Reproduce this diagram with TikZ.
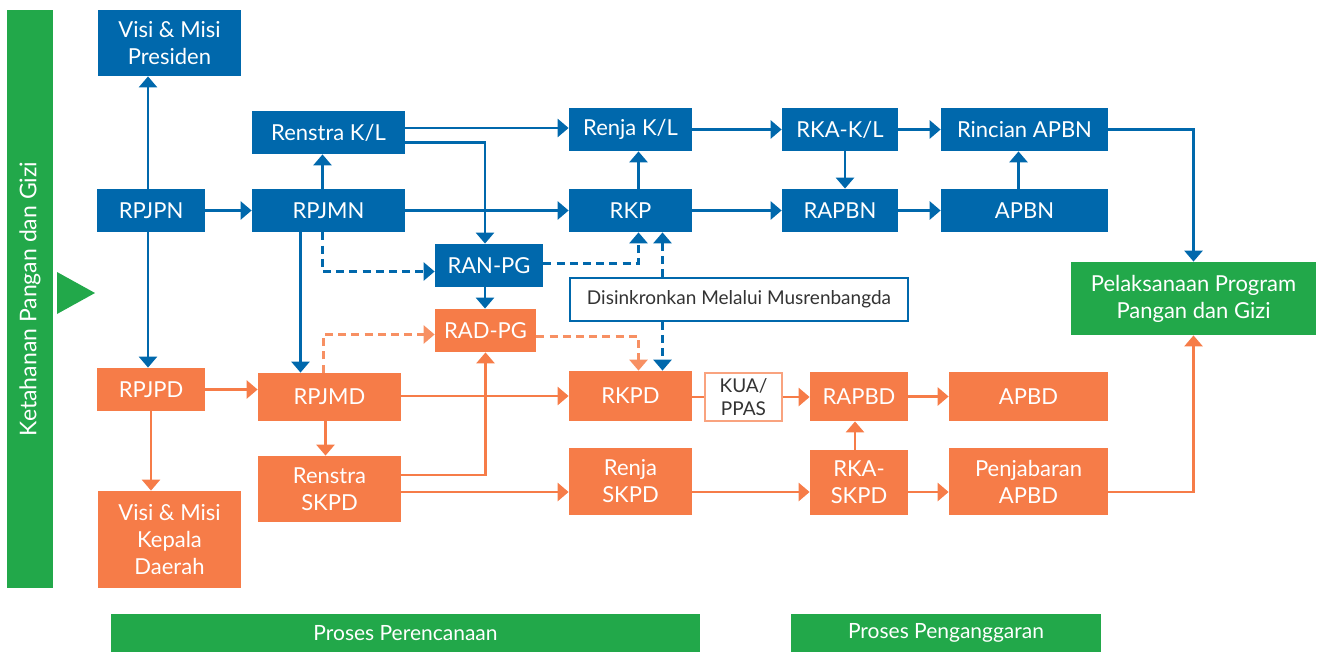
\documentclass[tikz,border=0pt]{standalone}
\usepackage{fontspec}
\setmainfont{Lato}
\usetikzlibrary{arrows.meta}
\definecolor{pgblue}{HTML}{0068AC}
\definecolor{pgorange}{HTML}{F67C48}
\definecolor{pggreen}{HTML}{22A84A}
\definecolor{pgtext}{HTML}{333333}
\begin{document}
\begin{tikzpicture}[x=0.5pt, y=-0.5pt,
  box/.style={minimum height=21.5pt, inner sep=1pt, align=center, text=white,
              font=\fontsize{11}{13.5}\selectfont},
  nas/.style={box, fill=pgblue},
  dae/.style={box, fill=pgorange},
  hijau/.style={box, fill=pggreen},
  ket/.style={box, fill=white, text=pgtext, font=\fontsize{9.5}{11.5}\selectfont},
  ar/.style={-{Triangle[width=9pt,length=5.5pt]}, line width=1.4pt},
  arb/.style={ar, pgblue},
  aro/.style={ar, pgorange},
  putus/.style={dash pattern=on 4pt off 2.6pt},
]
  \useasboundingbox (0,0) rectangle (1320,652);
  % side bar
  \node[hijau, rotate=90, minimum width=289pt, minimum height=23pt,
        font=\fontsize{11.5}{13}\selectfont] (side) at (30,299) {Ketahanan Pangan dan Gizi};
  \fill[pggreen] (57,272) -- (95,293) -- (57,314) -- cycle;
  % national level
  \node[nas, minimum width=71.5pt, minimum height=33pt] (vmp) at (169.5,43) {Visi \& Misi\\ Presiden};
  \node[nas, minimum width=54pt] (rpjpn) at (151,210.5) {RPJPN};
  \node[nas, minimum width=76.5pt] (renkl) at (328.5,132.5) {Renstra K/L};
  \node[nas, minimum width=76.5pt] (rpjmn) at (328.5,210.5) {RPJMN};
  \node[nas, minimum width=54pt] (ranpg) at (489,265.5) {RAN-PG};
  \node[nas, minimum width=61.5pt] (renjakl) at (630.5,129.5) {Renja K/L};
  \node[nas, minimum width=61.5pt] (rkp) at (630.5,210.5) {RKP};
  \node[nas, minimum width=58pt] (rkakl) at (840,129.5) {RKA-K/L};
  \node[nas, minimum width=58pt] (rapbn) at (840,210.5) {RAPBN};
  \node[nas, minimum width=83.5pt] (rincian) at (1024.5,129.5) {Rincian APBN};
  \node[nas, minimum width=83.5pt] (apbn) at (1024.5,210.5) {APBN};
  \node[ket, draw=pgblue, line width=0.7pt, minimum width=169pt] (sync) at (739,299.5)
      {Disinkronkan Melalui Musrenbangda};
  \node[hijau, minimum width=122.5pt, minimum height=36.5pt] (pelak) at (1193.5,298.5)
      {Pelaksanaan Program\\ Pangan dan Gizi};
  % regional level
  \node[dae, minimum width=50.5pt] (radpg) at (485.5,330.5) {RAD-PG};
  \node[dae, minimum width=54pt] (rpjpd) at (151,389.5) {RPJPD};
  \node[dae, minimum width=71.5pt, minimum height=24pt] (rpjmd) at (329.5,397) {RPJMD};
  \node[dae, minimum width=71.5pt, minimum height=33pt] (renskpd) at (329.5,489) {Renstra\\ SKPD};
  \node[dae, minimum width=71.5pt, minimum height=48.5pt] (vmkd) at (169.5,539.5)
      {Visi \& Misi\\ Kepala\\ Daerah};
  \node[dae, minimum width=61.5pt, minimum height=25pt] (rkpd) at (630.5,396) {RKPD};
  \node[ket, draw=pgorange!70, line width=0.7pt, minimum width=38.5pt, minimum height=24pt]
      (kua) at (743.5,397) {KUA/\\ PPAS};
  \node[dae, minimum width=49pt, minimum height=24.5pt] (rapbd) at (859,396.5) {RAPBD};
  \node[dae, minimum width=79.5pt, minimum height=24.5pt] (apbd) at (1028.5,396.5) {APBD};
  \node[dae, minimum width=61.5pt, minimum height=33.5pt] (renjaskpd) at (630.5,481.5) {Renja\\ SKPD};
  \node[dae, minimum width=49pt, minimum height=32.5pt] (rkaskpd) at (859,482.5) {RKA-\\ SKPD};
  \node[dae, minimum width=79.5pt, minimum height=33.5pt] (pjapbd) at (1028.5,481.5)
      {Penjabaran\\ APBD};
  % process labels
  \node[hijau, minimum width=294.5pt, minimum height=19pt, font=\fontsize{10.5}{12}\selectfont]
      (proc1) at (405.5,633) {Proses Perencanaan};
  \node[hijau, minimum width=155pt, minimum height=19pt, font=\fontsize{10.5}{12}\selectfont]
      (proc2) at (946,633) {Proses Penganggaran};
  \coordinate (lowrow) at (0,492);
  \coordinate (toprow) at (0,128);

  % blue connectors
  \draw[arb] ([xshift=-1.5pt]rpjpn.north) -- ([xshift=-1.5pt]rpjpn.north |- vmp.south);
  \draw[arb] ([xshift=-1.5pt]rpjpn.south) -- ([xshift=-1.5pt]rpjpn.south |- rpjpd.north);
  \draw[arb] (rpjpn.east) -- (rpjmn.west);
  \draw[arb] ([xshift=-3pt]rpjmn.north) -- ([xshift=-3pt]rpjmn.north |- renkl.south);
  \draw[arb] (renkl.east |- toprow) -- (renjakl.west |- toprow);
  \draw[arb] ([yshift=-5pt]renkl.east) -| ([xshift=-2pt]ranpg.north);
  \draw[arb] (rpjmn.east) -- (rkp.west);
  \draw[arb] ([xshift=-14pt]rpjmn.south) -- ([xshift=-14pt]rpjmn.south |- rpjmd.north);
  \draw[arb, putus] ([xshift=-3pt]rpjmn.south) |- ([yshift=-3pt]ranpg.west);
  \draw[arb] ([xshift=-2pt]ranpg.south) -- ([xshift=-2pt]ranpg.south |- radpg.north);
  \draw[arb, putus] ([yshift=1pt]ranpg.east) -| ([xshift=4pt]rkp.south);
  \draw[arb, putus] ([xshift=16pt]rkp.south |- sync.north) -- ([xshift=16pt]rkp.south);
  \draw[arb, putus] ([xshift=16pt]rkpd.north |- sync.south) -- ([xshift=16pt]rkpd.north);
  \draw[arb] ([xshift=4pt]rkp.north) -- ([xshift=4pt]rkp.north |- renjakl.south);
  \draw[arb] (renjakl.east) -- (rkakl.west);
  \draw[arb] (rkp.east) -- (rapbn.west);
  \draw[arb] ([xshift=2.5pt]rkakl.south) -- ([xshift=2.5pt]rkakl.south |- rapbn.north);
  \draw[arb] (rkakl.east) -- (rincian.west);
  \draw[arb] (rapbn.east) -- (apbn.west);
  \draw[arb] ([xshift=-3pt]apbn.north) -- ([xshift=-3pt]apbn.north |- rincian.south);
  \draw[arb] (rincian.east) -| (pelak.north);

  % orange connectors
  \draw[aro] (rpjpd.east) -- (rpjmd.west |- rpjpd);
  \draw[aro] (rpjpd.south) -- (rpjpd.south |- vmkd.north);
  \draw[aro, pgorange!85, putus] ([xshift=-3pt]rpjmd.north) |- ([yshift=-2pt]radpg.west);
  \draw[aro, pgorange!85, putus] ([yshift=-3pt]radpg.east) -| ([xshift=4pt]rkpd.north);
  \draw[aro] (rpjmd.east |- rkpd) -- (rkpd.west);
  \draw[aro] ([xshift=-2pt]rpjmd.south) -- ([xshift=-2pt]rpjmd.south |- renskpd.north);
  \draw[aro] ([yshift=7pt]renskpd.east) -| (radpg.south);
  \draw[aro] (renskpd.east |- lowrow) -- (renjaskpd.west |- lowrow);
  \draw[pgorange, line width=1.4pt] (rkpd.east |- kua) -- (kua.west);
  \draw[aro] (kua.east) -- (rapbd.west |- kua);
  \draw[aro] (rapbd.east) -- (apbd.west);
  \draw[aro] ([xshift=-2pt]rkaskpd.north) -- ([xshift=-2pt]rkaskpd.north |- rapbd.south);
  \draw[aro] (renjaskpd.east |- lowrow) -- (rkaskpd.west |- lowrow);
  \draw[aro] (rkaskpd.east |- lowrow) -- (pjapbd.west |- lowrow);
  \draw[aro] (pjapbd.east |- lowrow) -| (pelak.south);
\end{tikzpicture}
\end{document}
